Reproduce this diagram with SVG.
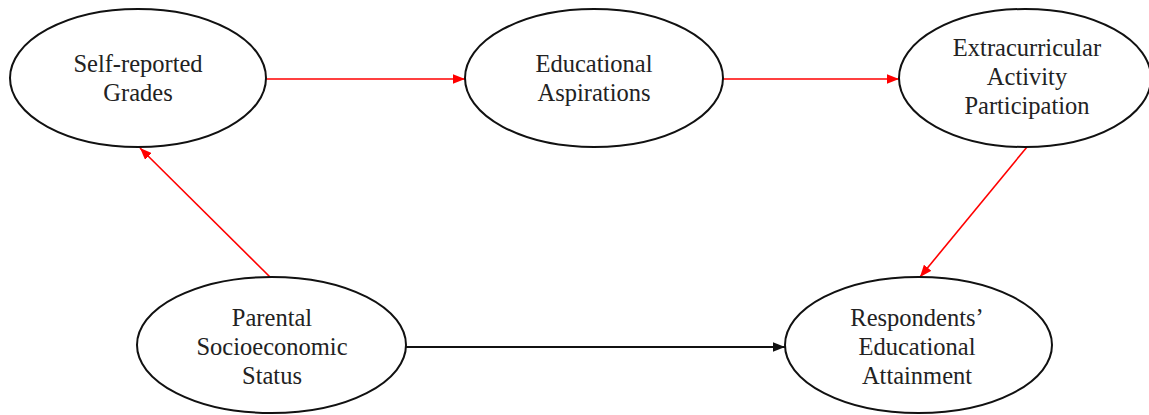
<svg xmlns="http://www.w3.org/2000/svg" width="1149" height="415" viewBox="0 0 1149 415">
  <style>
    .node ellipse { fill: #ffffff; stroke: #111111; stroke-width: 2; }
    .node text { font-family: "Liberation Serif", "Times New Roman", serif; font-size: 24.5px; fill: #222222; text-anchor: middle; }
    .red { stroke: #ff0000; stroke-width: 1.6; fill: none; }
    .black { stroke: #111111; stroke-width: 2; fill: none; }
  </style>
  <defs>
    <marker id="arrowRed" viewBox="0 0 10 8" refX="10" refY="4" markerWidth="12" markerHeight="9.6" markerUnits="userSpaceOnUse" orient="auto">
      <path d="M0,0 L10,4 L0,8 Z" fill="#ff0000"/>
    </marker>
    <marker id="arrowBlack" viewBox="0 0 10 8" refX="10" refY="4" markerWidth="12" markerHeight="9.6" markerUnits="userSpaceOnUse" orient="auto">
      <path d="M0,0 L10,4 L0,8 Z" fill="#111111"/>
    </marker>
  </defs>

  <rect width="1149" height="415" fill="#ffffff"/>

  <g id="connectors">
    <line class="red" x1="266" y1="79" x2="465" y2="79" marker-end="url(#arrowRed)"/>
    <line class="red" x1="723" y1="79" x2="899" y2="79" marker-end="url(#arrowRed)"/>
    <line class="red" x1="270" y1="277" x2="140" y2="148" marker-end="url(#arrowRed)"/>
    <line class="red" x1="1027" y1="147" x2="920" y2="277" marker-end="url(#arrowRed)"/>
    <line class="black" x1="406" y1="347" x2="785" y2="347" marker-end="url(#arrowBlack)"/>
  </g>

  <g id="grades" class="node">
    <ellipse cx="138" cy="78" rx="128" ry="69"/>
    <text x="138" y="72">Self-reported</text>
    <text x="138" y="101">Grades</text>
  </g>

  <g id="aspirations" class="node">
    <ellipse cx="594" cy="78" rx="129" ry="69"/>
    <text x="594" y="72">Educational</text>
    <text x="594" y="101">Aspirations</text>
  </g>

  <g id="extracurricular" class="node">
    <ellipse cx="1025" cy="78" rx="126" ry="69"/>
    <text x="1027" y="56">Extracurricular</text>
    <text x="1027" y="85">Activity</text>
    <text x="1027" y="114">Participation</text>
  </g>

  <g id="parental" class="node">
    <ellipse cx="271.5" cy="345" rx="134.5" ry="68"/>
    <text x="272" y="326">Parental</text>
    <text x="272" y="355">Socioeconomic</text>
    <text x="272" y="384">Status</text>
  </g>

  <g id="attainment" class="node">
    <ellipse cx="918.5" cy="345" rx="133.5" ry="68"/>
    <text x="917" y="326">Respondents’</text>
    <text x="917" y="355">Educational</text>
    <text x="917" y="384">Attainment</text>
  </g>
</svg>
